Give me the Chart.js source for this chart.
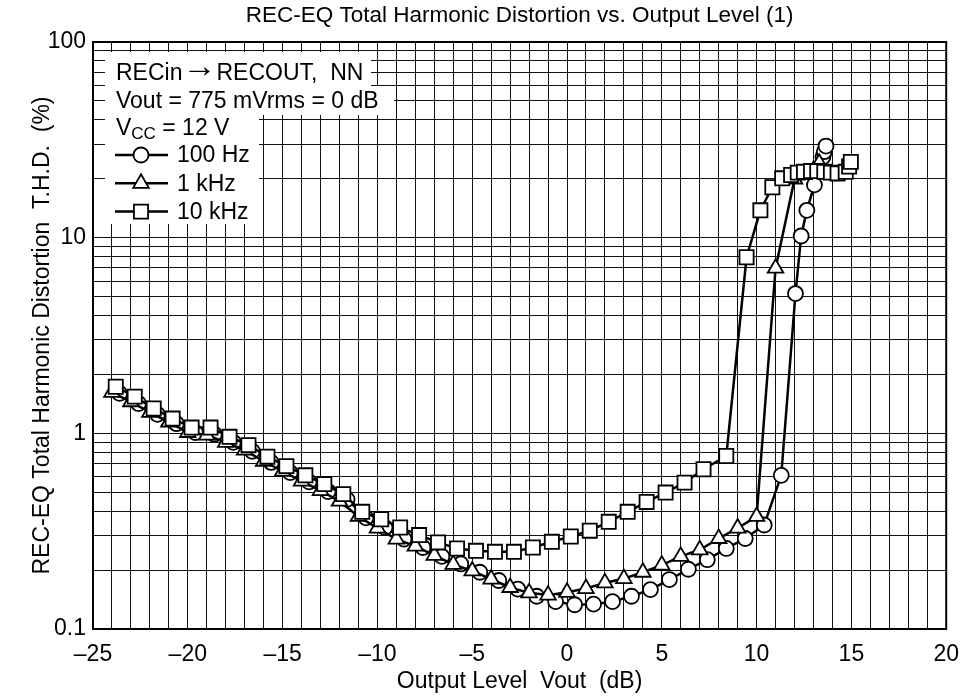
<!DOCTYPE html>
<html>
<head>
<meta charset="utf-8">
<title>REC-EQ Total Harmonic Distortion vs. Output Level (1)</title>
<script src="https://cdn.jsdelivr.net/npm/chart.js@4.4.1/dist/chart.umd.min.js"></script>
<style>
  body { margin: 0; background: #fff; }
  #wrap { width: 971px; height: 700px; }
</style>
</head>
<body>
<div id="wrap"><canvas id="thdChart"></canvas></div>
<script>
// values: output level (dB) / THD (%)
const x100Hz = [-23.6, -22.6, -21.6, -20.6, -19.6, -18.6, -17.6, -16.6, -15.6, -14.6,
  -13.6, -12.6, -11.6, -10.6, -9.6, -8.6, -7.6, -6.6, -5.6, -4.6,
  -3.6, -2.6, -1.6, -0.6, 0.4, 1.4, 2.4, 3.4, 4.4, 5.4,
  6.4, 7.4, 8.4, 9.4, 10.4, 11.3, 12.05, 12.35, 12.65, 13.05,
  13.5, 13.57, 13.66];
const thd100Hz = [1.60, 1.42, 1.25, 1.12, 1.01, 0.99, 0.90, 0.81, 0.71, 0.63,
  0.565, 0.504, 0.46, 0.37, 0.33, 0.288, 0.261, 0.235, 0.215, 0.195,
  0.177, 0.160, 0.147, 0.138, 0.133, 0.134, 0.138, 0.147, 0.159, 0.179,
  0.202, 0.226, 0.258, 0.29, 0.34, 0.61, 5.18, 10.2, 13.8, 18.6,
  25.9, 27.5, 29.4];

const x1kHz = [-24, -23, -22, -21, -20, -19, -18, -17, -16, -15,
  -14, -13, -12, -11, -10, -9, -8, -7, -6, -5,
  -4, -3, -2, -1, 0, 1, 2, 3, 4, 5,
  6, 7, 8, 9, 10, 11, 12, 12.5, 13, 13.3];
const thd1kHz = [1.62, 1.45, 1.28, 1.14, 1.01, 0.98, 0.90, 0.82, 0.72, 0.64,
  0.57, 0.51, 0.45, 0.376, 0.328, 0.288, 0.265, 0.238, 0.214, 0.198,
  0.180, 0.163, 0.153, 0.149, 0.154, 0.161, 0.172, 0.181, 0.195, 0.212,
  0.235, 0.254, 0.29, 0.328, 0.376, 6.98, 19.9, 21.0, 22.0, 24.0];

const x10kHz = [-23.8, -22.8, -21.8, -20.8, -19.8, -18.8, -17.8, -16.8, -15.8, -14.8,
  -13.8, -12.8, -11.8, -10.8, -9.8, -8.8, -7.8, -6.8, -5.8, -4.8,
  -3.8, -2.8, -1.8, -0.8, 0.2, 1.2, 2.2, 3.2, 4.2, 5.2,
  6.2, 7.2, 8.4, 9.47, 10.2, 10.83, 11.35, 11.82, 12.17, 12.5,
  12.87, 13.2, 13.57, 13.92, 14.27, 14.7, 14.88, 14.97];
const thd10kHz = [1.73, 1.54, 1.34, 1.19, 1.07, 1.07, 0.96, 0.87, 0.76, 0.68,
  0.61, 0.55, 0.489, 0.397, 0.364, 0.33, 0.302, 0.277, 0.258, 0.251,
  0.248, 0.248, 0.261, 0.279, 0.297, 0.318, 0.353, 0.397, 0.446, 0.498,
  0.56, 0.655, 0.766, 7.94, 13.8, 18.1, 20.1, 20.9, 21.5, 21.7,
  21.9, 21.9, 21.7, 21.5, 21.3, 21.7, 23.1, 24.4];

// axis grid / labels
const xGrid = [];
for (let v = -25; v <= 20; v++) xGrid.push(v);
const xLabels = [-25, -20, -15, -10, -5, 0, 5, 10, 15, 20];
const yGrid = [0.1, 0.2, 0.3, 0.4, 0.5, 0.6, 0.7, 0.8, 0.9,
  1, 2, 3, 4, 5, 6, 7, 8, 9,
  10, 20, 30, 40, 50, 60, 70, 80, 90, 100];
const yLabels = [0.1, 1, 10, 100];

const FAMILY = '"Liberation Sans", Arial, Helvetica, sans-serif';
const font = { family: FAMILY, size: 23 };

function pts(xs, ys) {
  return xs.map((x, i) => ({ x: x, y: ys[i] }));
}

function dash(v) {
  return v < 0 ? '\u2013' + (-v) : String(v);
}

const series = [
  { label: '100 Hz', data: pts(x100Hz, thd100Hz), pointStyle: 'circle', radius: 7.5, order: 3 },
  { label: '1 kHz', data: pts(x1kHz, thd1kHz), pointStyle: 'triangle', radius: 9, order: 2 },
  { label: '10 kHz', data: pts(x10kHz, thd10kHz), pointStyle: 'rect', radius: 10, order: 1 }
];

// write a run of text pieces [text, font, dy] one after the other
function textRun(ctx, pieces, x, y) {
  pieces.forEach(p => {
    ctx.font = p[1];
    ctx.fillText(p[0], x, y + (p[2] || 0));
    x += ctx.measureText(p[0]).width;
  });
}

// title, the boxed note in the top-left corner and the frame
const notes = {
  id: 'notes',
  beforeDatasetsDraw(chart) {
    const ctx = chart.ctx;
    const a = chart.chartArea;
    const f23 = '23px ' + FAMILY;
    ctx.save();

    // white backing behind the note, grid stops at its edges
    ctx.fillStyle = '#fff';
    ctx.fillRect(a.left + 12, a.top + 10, 266, 34);
    ctx.fillRect(a.left + 12, a.top + 44, 289, 29);
    ctx.fillRect(a.left + 12, a.top + 73, 154, 109);

    ctx.strokeStyle = '#000';
    ctx.lineWidth = 2;
    ctx.strokeRect(a.left, a.top, a.right - a.left, a.bottom - a.top);

    ctx.fillStyle = '#000';
    ctx.textAlign = 'left';
    ctx.textBaseline = 'alphabetic';
    const tx = a.left + 23;
    textRun(ctx, [['RECin', f23], ['\u2192', '34px ' + FAMILY, -3], ['RECOUT,  NN', f23]], tx, a.top + 38);
    textRun(ctx, [['Vout = 775 mVrms = 0 dB', f23]], tx, a.top + 66);
    textRun(ctx, [['V', f23], ['CC', '17px ' + FAMILY, 4], [' = 12 V', f23]], tx, a.top + 93);

    // legend rows
    ctx.font = f23;
    ctx.textBaseline = 'middle';
    series.forEach((s, i) => {
      const y = a.top + 113 + i * 28.3;
      ctx.strokeStyle = '#000';
      ctx.lineWidth = 2.5;
      ctx.beginPath();
      ctx.moveTo(a.left + 22, y);
      ctx.lineTo(a.left + 75, y);
      ctx.stroke();
      ctx.fillStyle = '#fff';
      ctx.lineWidth = 1.8;
      Chart.helpers.drawPoint(ctx, { pointStyle: s.pointStyle, radius: s.radius, rotation: 0, borderWidth: 1.8 }, a.left + 48, y);
      ctx.fillStyle = '#000';
      ctx.fillText(s.label, a.left + 84, y + 1);
    });

    // chart title
    ctx.textAlign = 'center';
    ctx.textBaseline = 'alphabetic';
    ctx.font = '22.5px ' + FAMILY;
    ctx.fillText('REC-EQ Total Harmonic Distortion vs. Output Level (1)', (a.left + a.right) / 2, 22);
    ctx.restore();
  }
};

new Chart(document.getElementById('thdChart'), {
  type: 'line',
  data: {
    datasets: series.map(s => ({
      label: s.label,
      data: s.data,
      order: s.order,
      borderColor: '#000',
      borderWidth: 2.5,
      backgroundColor: '#fff',
      pointStyle: s.pointStyle,
      pointRadius: s.radius,
      pointBackgroundColor: '#fff',
      pointBorderColor: '#000',
      pointBorderWidth: 1.8,
      tension: 0,
      fill: false
    }))
  },
  options: {
    responsive: true,
    maintainAspectRatio: false,
    animation: false,
    devicePixelRatio: 1,
    layout: { padding: { left: 0, right: 21, top: 42, bottom: 0 } },
    plugins: {
      legend: { display: false },
      title: { display: false },
      tooltip: { enabled: false }
    },
    scales: {
      x: {
        type: 'linear',
        min: -25,
        max: 20,
        afterBuildTicks: s => { s.ticks = xGrid.map(v => ({ value: v })); },
        afterFit: s => { s.height = 71; },
        grid: { color: '#111', lineWidth: 1, drawTicks: false },
        border: { color: '#000', width: 2 },
        ticks: {
          color: '#000',
          font: font,
          padding: 12,
          maxRotation: 0,
          autoSkip: false,
          callback: v => xLabels.includes(v) ? dash(v) : ''
        },
        title: {
          display: true,
          text: 'Output Level  Vout  (dB)',
          color: '#000',
          font: font,
          padding: { top: 0, bottom: 5 }
        }
      },
      y: {
        type: 'logarithmic',
        min: 0.1,
        max: 100,
        afterBuildTicks: s => { s.ticks = yGrid.map(v => ({ value: v })); },
        afterFit: s => { s.width = 93; },
        grid: { color: '#111', lineWidth: 1, drawTicks: false },
        border: { color: '#000', width: 2 },
        ticks: {
          color: '#000',
          font: font,
          padding: 7,
          autoSkip: false,
          callback: v => yLabels.includes(v) ? String(v) : ''
        },
        title: {
          display: true,
          text: 'REC-EQ Total Harmonic Distortion  T.H.D.  (%)',
          color: '#000',
          font: font,
          padding: { top: 29, bottom: 0 }
        }
      }
    }
  },
  plugins: [notes]
});
</script>
</body>
</html>
